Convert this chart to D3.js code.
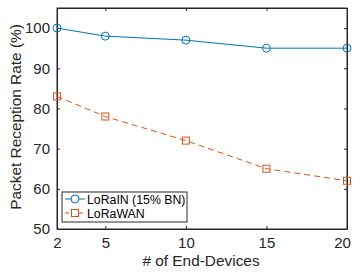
<!DOCTYPE html>
<html><head><meta charset="utf-8">
<script src="https://cdn.jsdelivr.net/npm/d3@7"></script>
<style>body{margin:0;background:#fff}svg{display:block}text{font-family:"Liberation Sans",Arial,sans-serif}</style>
</head><body>
<script>
const devices = [2, 5, 10, 15, 20];
const lorain = [100, 98, 97, 95, 95];
const lorawan = [83, 78, 72, 65, 62];
const xTicks = [2, 5, 10, 15, 20];
const yTicks = [50, 60, 70, 80, 90, 100];
const seriesNames = ["LoRaIN (15% BN)", "LoRaWAN"];

const W = 354, H = 272;
const m = {l: 57, r: 7, t: 8, b: 43};
const svg = d3.select("body").append("svg").attr("width", W).attr("height", H);
const x = d3.scaleLinear().domain([2, 20]).range([m.l, W - m.r]);
const y = d3.scaleLinear().domain([50, 105]).range([H - m.b, m.t]);
const axisCol = "#262626";
const tl = 3;

const g = svg.append("g");
g.append("rect").attr("x", x(2)).attr("y", y(105)).attr("width", x(20) - x(2)).attr("height", y(50) - y(105))
  .attr("fill", "none").attr("stroke", axisCol).attr("stroke-width", 1);

const xb = svg.append("g").attr("transform", `translate(0,${y(50)})`)
  .call(d3.axisBottom(x).tickValues(xTicks).tickSizeInner(-tl).tickSizeOuter(0).tickPadding(8));
const xt = svg.append("g").attr("transform", `translate(0,${y(105)})`)
  .call(d3.axisTop(x).tickValues(xTicks).tickSizeInner(-tl).tickSizeOuter(0).tickFormat(""));
const yl = svg.append("g").attr("transform", `translate(${x(2)},0)`)
  .call(d3.axisLeft(y).tickValues(yTicks).tickSizeInner(-tl).tickSizeOuter(0).tickPadding(7));
const yr = svg.append("g").attr("transform", `translate(${x(20)},0)`)
  .call(d3.axisRight(y).tickValues(yTicks).tickSizeInner(-tl).tickSizeOuter(0).tickFormat(""));
[xb, xt, yl, yr].forEach(a => {
  a.select(".domain").attr("stroke", axisCol);
  a.selectAll(".tick line").attr("stroke", axisCol);
  a.selectAll("text").attr("fill", "#262626").style("font-size", "15px");
});
// keep the last x tick label inside the picture
xb.selectAll(".tick text").filter(d => d === 20).attr("dx", -5);

const data1 = devices.map((d, i) => [d, lorain[i]]);
const data2 = devices.map((d, i) => [d, lorawan[i]]);
const line = d3.line().x(d => x(d[0])).y(d => y(d[1]));
const blue = "#0072BD", orange = "#D95319";

svg.append("path").datum(data1).attr("d", line).attr("fill", "none").attr("stroke", blue).attr("stroke-width", 1);
svg.selectAll(".c").data(data1).enter().append("circle").attr("cx", d => x(d[0])).attr("cy", d => y(d[1])).attr("r", 4)
  .attr("fill", "none").attr("stroke", blue).attr("stroke-width", 1);

svg.append("path").datum(data2).attr("d", line).attr("fill", "none").attr("stroke", orange).attr("stroke-width", 1).attr("stroke-dasharray", "6,4");
svg.selectAll(".s").data(data2).enter().append("rect").attr("x", d => x(d[0]) - 3.5).attr("y", d => y(d[1]) - 3.5)
  .attr("width", 7).attr("height", 7).attr("fill", "none").attr("stroke", orange).attr("stroke-width", 1);

const lg = svg.append("g");
lg.append("rect").attr("x", 62).attr("y", 192).attr("width", 125).attr("height", 30).attr("fill", "#fff").attr("stroke", axisCol).attr("stroke-width", 1);
const ly = [199, 213];
lg.append("line").attr("x1", 65).attr("x2", 85).attr("y1", ly[0]).attr("y2", ly[0]).attr("stroke", blue);
lg.append("circle").attr("cx", 75).attr("cy", ly[0]).attr("r", 4).attr("fill", "#fff").attr("stroke", blue);
lg.append("line").attr("x1", 65).attr("x2", 85).attr("y1", ly[1]).attr("y2", ly[1]).attr("stroke", orange).attr("stroke-dasharray", "4,3");
lg.append("rect").attr("x", 71.5).attr("y", ly[1] - 3.5).attr("width", 7).attr("height", 7).attr("fill", "#fff").attr("stroke", orange);
seriesNames.forEach((n, i) => {
  lg.append("text").attr("x", 87).attr("y", ly[i] + 4.5).text(n).style("font-size", "12.3px").attr("fill", "#000");
});

svg.append("text").attr("x", 201).attr("y", 266).attr("text-anchor", "middle").style("font-size", "15.4px").attr("fill", "#262626").text("# of End-Devices");
svg.append("text").attr("transform", `translate(21,117) rotate(-90)`).attr("text-anchor", "middle").style("font-size", "15.4px").attr("fill", "#262626").text("Packet Reception Rate (%)");
</script>
</body></html>
